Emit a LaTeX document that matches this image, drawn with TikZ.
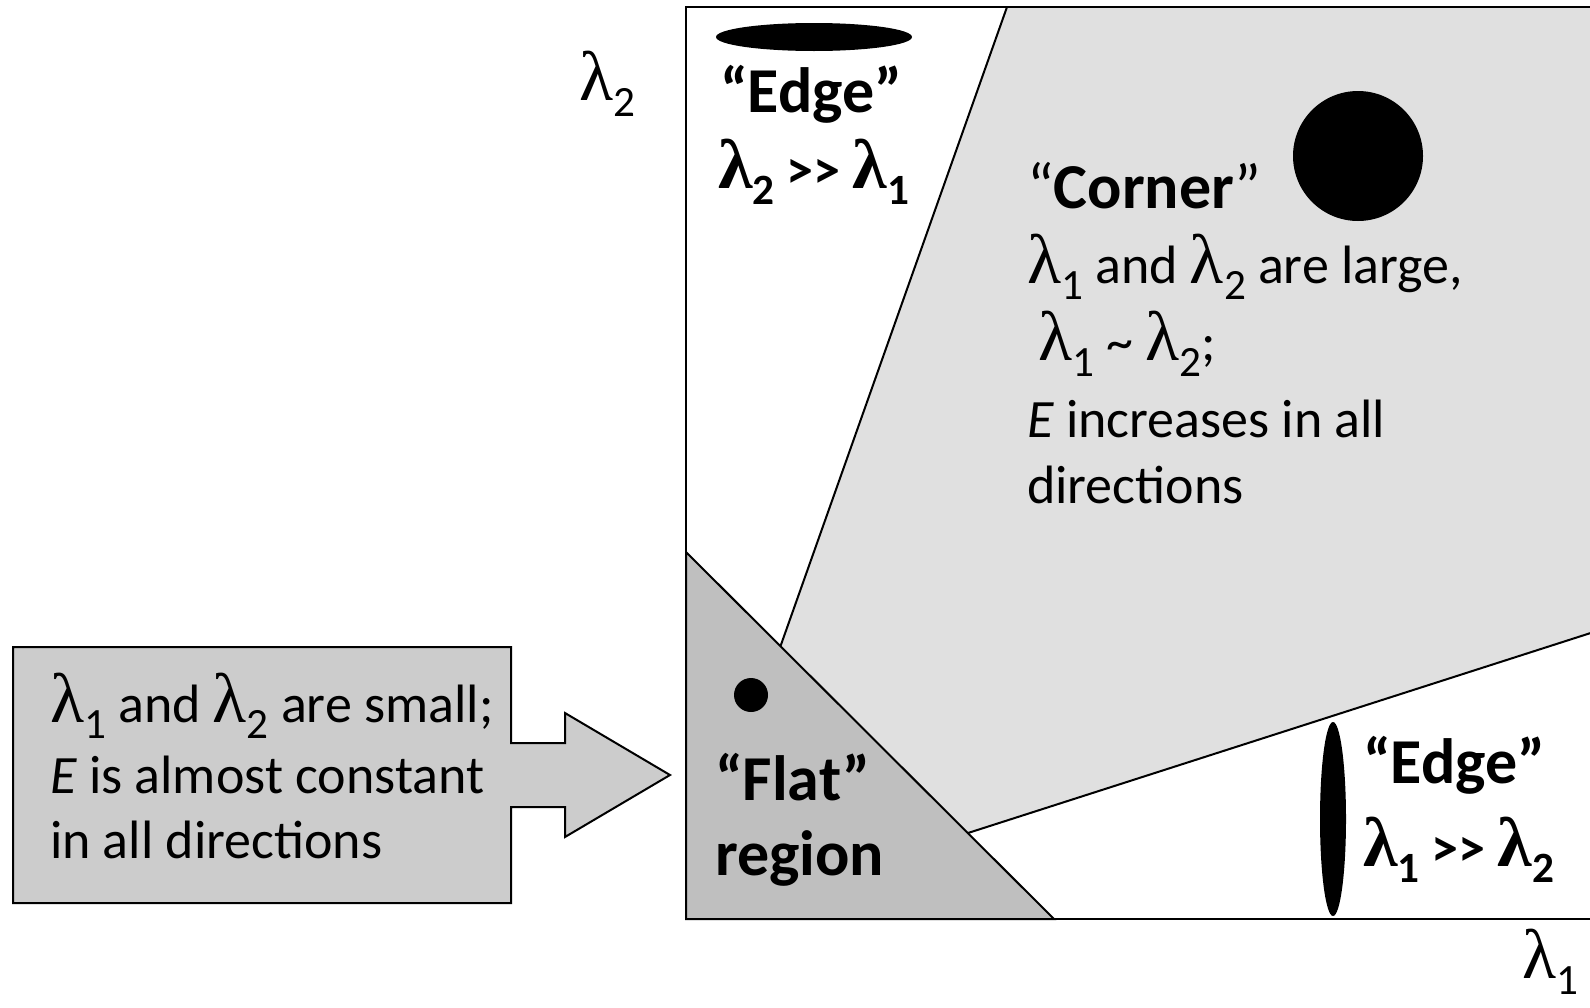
\documentclass[tikz,border=0pt]{standalone}
\usepackage{fontspec}
\setmainfont{Carlito}
\newfontfamily\lamfont{Liberation Serif}
\usepackage{xcolor}
\definecolor{cornergray}{gray}{0.88}
\definecolor{flatgray}{gray}{0.75}
\definecolor{boxgray}{gray}{0.80}
\newcommand\lam[1]{\scalebox{1.3}{\lamfont λ}\raisebox{-0.3em}{\scalebox{0.8}{#1}}}
\newcommand\muchgt{>\kern0pt>}
\tikzset{
  body/.style={font=\fontsize{54}{54}\selectfont, inner sep=0pt, anchor=base west},
  head/.style={font=\fontsize{64}{64}\selectfont\bfseries, inner sep=0pt, anchor=base west},
  rel/.style={font=\fontsize{54}{54}\selectfont\bfseries, inner sep=0pt, anchor=base west},
}

\begin{document}
\begin{tikzpicture}[x=1pt,y=-1pt,line width=2pt]
    \useasboundingbox (0,0) rectangle (1590,1007);
    \clip (0,0) rectangle (1590,1007);
    \coordinate (tl) at (686,7); \coordinate (bl) at (686,919);
    \coordinate (tr) at (1600,7); \coordinate (br) at (1600,919);
    \coordinate (ftop) at (686,552); \coordinate (fbot) at (1054,919);
    \coordinate (ctop) at (1007,7); \coordinate (cleft) at (780.4,646.4);
    \coordinate (cbot) at (968,833); \coordinate (cright) at (1600,630);
    % regions
    \fill[cornergray] (ctop) -- (cleft) -- (cbot) -- (cright) -- (tr) -- cycle;
    \draw (ctop) -- (cleft); \draw (cbot) -- (cright);
    \filldraw[fill=flatgray] (ftop) -- (bl) -- (fbot) -- cycle;
    \draw[line width=2.5pt] (tr) -- (tl) -- (bl) -- (br);
    % blobs
    \fill (814,37) ellipse [x radius=98, y radius=14];
    \fill (1358,156) circle (65);
    \fill (751,695) circle (17);
    \fill (1333,819) ellipse [x radius=13, y radius=97];
    % axis labels
    \node[body] (lamtwo) at (578,100) {\lam{2}};
    \node[body] (lamone) at (1521,978) {\lam{1}};
    % edge, top
    \node[head] (edgetop) at (719,112) {“Edge”};
    \node[rel] (edgetoprel) at (717,188) {\lam{2} \muchgt{} \lam{1}};
    % corner
    \node[head] (cornerhd) at (1026,208) {{\mdseries“}Corner{\mdseries”}};
    \node[body] (cornerA) at (1026,283) {\lam{1} and \lam{2} are large,};
    \node[body] (cornerB) at (1037,360) {\lam{1} \textasciitilde{} \lam{2};};
    \node[body] (cornerC) at (1026,437) {\textit{E} increases in all};
    \node[body] (cornerD) at (1026,503) {directions};
    % flat
    \node[head] (flatA) at (714,800) {“Flat”};
    \node[head] (flatB) at (714,875) {region};
    % edge, right
    \node[head] (edgeright) at (1362,783) {“Edge”};
    \node[rel] (edgerightrel) at (1362,866) {\lam{1} \muchgt{} \lam{2}};
    % box with arrow
    \filldraw[fill=boxgray] (13,647) -- (511,647) -- (511,743) -- (565,743)
      -- (565,713) -- (670,775) -- (565,837) -- (565,807) -- (511,807)
      -- (511,903) -- (13,903) -- cycle;
    \node[body] (smallA) at (49,722) {\lam{1} and \lam{2} are small;};
    \node[body] (smallB) at (49,793) {\textit{E} is almost constant};
    \node[body] (smallC) at (49,858) {in all directions};
\end{tikzpicture}
\end{document}
